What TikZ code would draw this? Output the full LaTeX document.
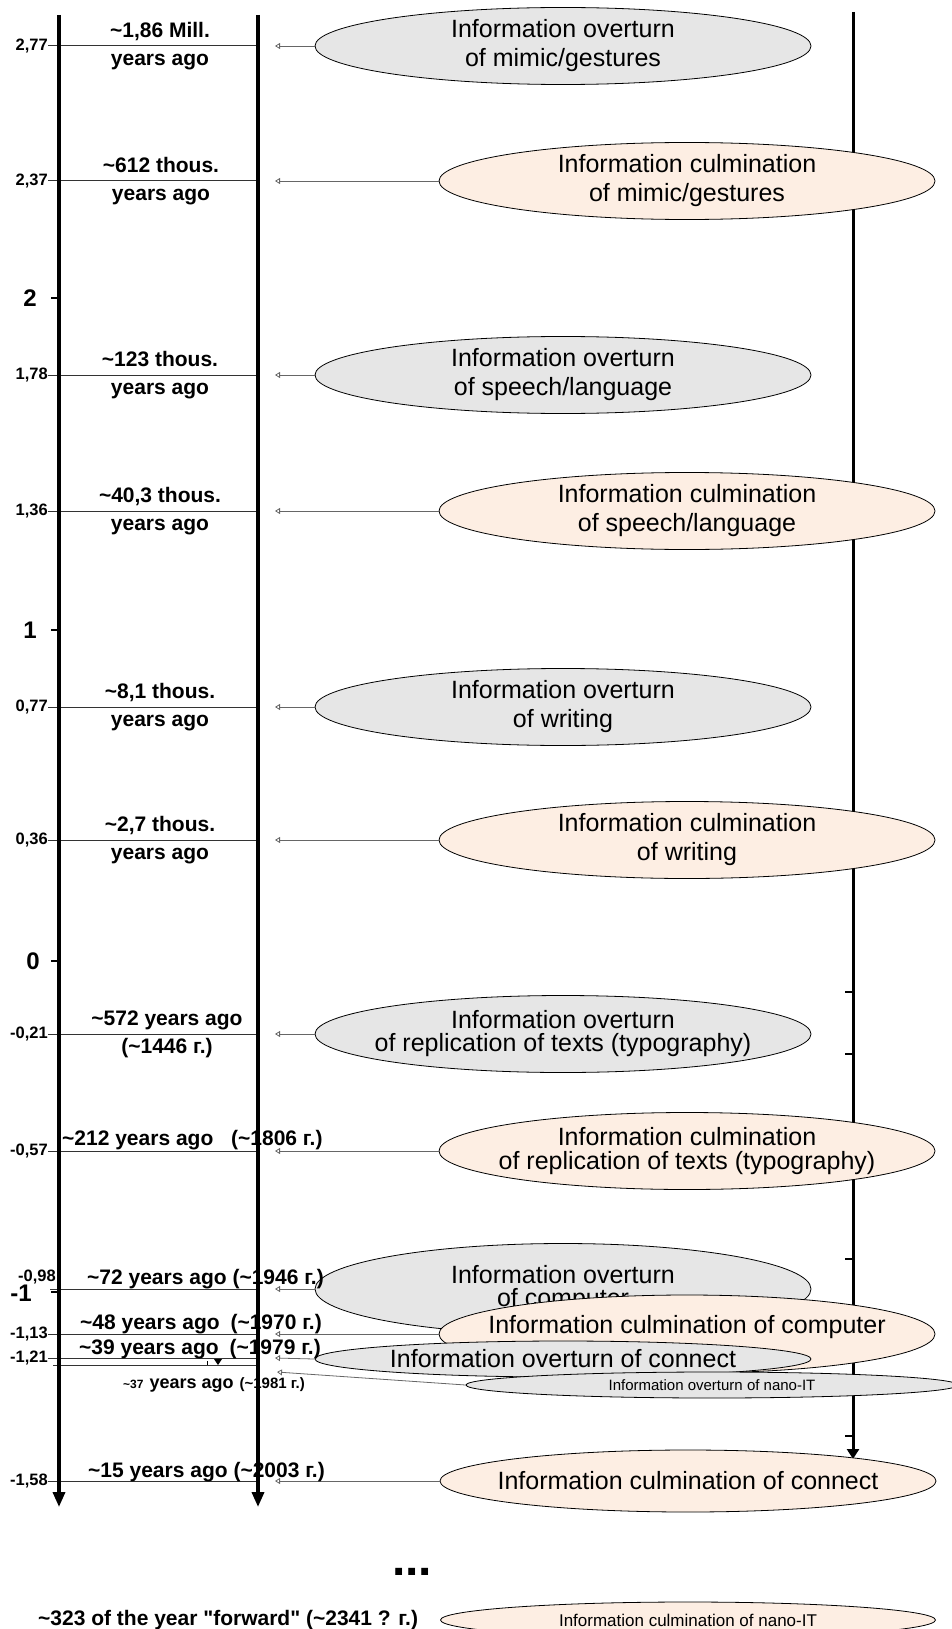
\documentclass[tikz,border=0pt]{standalone}
\usepackage{fontspec}
\setmainfont{Liberation Sans}[Ligatures=TeXOff]
\usetikzlibrary{arrows.meta,shapes.geometric}
\newcommand\tld{\textasciitilde}
\definecolor{ovgray}{RGB}{230,230,230}
\definecolor{culpeach}{RGB}{253,238,227}

\begin{document}
\begin{tikzpicture}[x=1pt, y=-1pt,
  ell/.style={ellipse, draw, line width=0.8pt, inner xsep=-30pt, inner ysep=0pt, align=center,
    minimum width=496pt, minimum height=77pt, font=\fontsize{25}{29}\selectfont},
  ovt/.style={ell, fill=ovgray},
  cul/.style={ell, fill=culpeach},
  lbl/.style={font=\bfseries\fontsize{21}{28}\selectfont, align=center, inner sep=0pt},
  val/.style={font=\bfseries\fontsize{16.5}{18}\selectfont, anchor=east, inner sep=0pt},
  big/.style={font=\bfseries\fontsize{24}{26}\selectfont, anchor=east, inner sep=0pt},
  axis/.style={line width=3.5pt, -{Triangle[length=15pt, width=12pt]}},
  row/.style={line width=1pt, black!80},
  arr/.style={line width=0.8pt, black!60, -{Triangle[open, length=5pt, width=6pt]}}]
\useasboundingbox (0,0) rectangle (952,1629);

\coordinate (rt) at (853,12);
\coordinate (rb) at (853,1459);
\draw[line width=3pt, -{Triangle[length=10pt, width=12pt]}] (rt) -- (rb);
\foreach \y in {992,1054,1259,1436} \draw[line width=1.2pt] (845,\y) -- (853,\y);

\node[ovt] (ov1) at (563,46) {Information overturn\\ of mimic/gestures};
\node[cul] (cu1) at (687,181) {Information culmination\\ of mimic/gestures};
\node[ovt] (ov2) at (563,375) {Information overturn\\ of speech/language};
\node[cul] (cu2) at (687,511) {Information culmination\\ of speech/language};
\node[ovt] (ov3) at (563,707) {Information overturn\\ of writing};
\node[cul] (cu3) at (687,840) {Information culmination\\ of writing};
\node[ovt] (ov4) at (563,1034) {Information overturn\\[-6pt] of replication of texts (typography)};
\node[cul] (cu4) at (687,1151) {Information culmination\\[-5pt] of replication of texts (typography)};
\node[ovt, minimum height=91pt] (ov5) at (563,1289) {Information overturn\\[-6pt] of computer};
\node[cul, minimum height=78pt] (cu5) at (687,1334) {\raisebox{1pt}[0pt][0pt]{Information culmination of computer}};
\node[ovt, minimum height=36pt] (ov6) at (563,1359) {Information overturn of connect};
\node[ovt, minimum width=492pt, minimum height=26pt, font=\fontsize{15}{17}\selectfont] (ov7) at (712,1385) {Information overturn of nano-IT};
\node[cul, minimum height=62pt] (cu6) at (688,1481) {Information culmination of connect};
\node[cul, minimum width=495pt, minimum height=36pt, font=\fontsize{17}{19}\selectfont] (cu7) at (688,1620) {Information culmination of nano-IT};

\foreach \n/\y/\v in {1/46/{2,77}, 2/181/{2,37}, 3/375/{1,78}, 4/511/{1,36}, 5/707/{0,77}, 6/840/{0,36},
  7/1034/{-0,21}, 8/1151/{-0,57}, 10/1334/{-1,13}, 11/1358/{-1,21}, 13/1481/{-1,58}} {
  \node[val] (v\n) at (48,\y) {\v};
  \coordinate (s\n) at (260,\y);
  \coordinate (t\n) at (275,\y);
  \draw[row] (v\n.east) -- (s\n);
}
\node[val] (v9) at (56,1277) {-0,98};
\coordinate (b9) at (50,1289); \coordinate (s9) at (260,1289); \coordinate (t9) at (275,1289);
\coordinate (b12) at (53,1365); \coordinate (s12) at (260,1365); \coordinate (t12) at (277,1372);
\draw[row] (b9) -- (s9);
\draw[row] (b12) -- (s12);
\fill (214,1359) -- (222,1359) -- (218,1365) -- cycle;
\draw[line width=0.6pt] (207,1361) -- (207,1365);

\draw[arr] (ov1.west) -- (t1);
\draw[arr] (cu1.west) -- (t2);
\draw[arr] (ov2.west) -- (t3);
\draw[arr] (cu2.west) -- (t4);
\draw[arr] (ov3.west) -- (t5);
\draw[arr] (cu3.west) -- (t6);
\draw[arr] (ov4.west) -- (t7);
\draw[arr] (cu4.west) -- (t8);
\draw[arr] (ov5.west) -- (t9);
\draw[arr] (cu5.west) -- (t10);
\draw[arr] (ov6.west) -- (t11);
\draw[arr] (ov7.west) -- (t12);
\draw[arr] (cu6.west) -- (t13);

\node[big] (n2) at (37,298) {2};
\node[big] (n1) at (37,630) {1};
\node[big] (n0) at (40,961) {0};
\node[big] (nm1) at (32,1293) {-1};
\foreach \y in {298,630,961,1292} \draw[line width=1.5pt] (51,\y) -- (59,\y);

\node[lbl] (y1) at (160,46) {\tld1,86 Mill.\\ years ago};
\node[lbl] (y2) at (161,181) {\tld612 thous.\\ years ago};
\node[lbl] (y3) at (160,375) {\tld123 thous.\\ years ago};
\node[lbl] (y4) at (160,511) {\tld40,3 thous.\\ years ago};
\node[lbl] (y5) at (160,707) {\tld8,1 thous.\\ years ago};
\node[lbl] (y6) at (160,840) {\tld2,7 thous.\\ years ago};
\node[lbl] (y7) at (167,1034) {\tld572 years ago\\ (\tld1446 г.)};
\node[lbl, anchor=base west] (y8) at (62,1145) {\tld212 years ago\hspace{12pt} (\tld1806 г.)};
\node[lbl, anchor=base west] (y9) at (87,1284) {\tld72 years ago (\tld1946 г.)};
\node[lbl, anchor=base west] (y10) at (80,1329) {\tld48 years ago\hspace{5pt} (\tld1970 г.)};
\node[lbl, anchor=base west] (y11) at (79,1354) {\tld39 years ago\hspace{5pt} (\tld1979 г.)};
\node[lbl, anchor=base west] (y12) at (123,1388) {\fontsize{12}{14}\selectfont\tld37\hspace{6pt}\fontsize{18}{20}\selectfont years ago\hspace{6pt}\fontsize{15}{17}\selectfont(\tld1981 г.)};
\node[lbl, anchor=base west] (y13) at (88,1477) {\tld15 years ago (\tld2003 г.)};

\coordinate (a1t) at (59,15);
\coordinate (a1b) at (59,1507);
\coordinate (a2t) at (258,15);
\coordinate (a2b) at (258,1507);
\draw[axis] (a1t) -- (a1b);
\draw[axis] (a2t) -- (a2b);

\node[font=\bfseries\fontsize{48}{50}\selectfont] (dots) at (412,1572) {...};
\node[lbl, anchor=base west] (fw) at (38,1625) {\tld323 of the year "forward" (\tld2341 ? г.)};
\end{tikzpicture}
\end{document}
